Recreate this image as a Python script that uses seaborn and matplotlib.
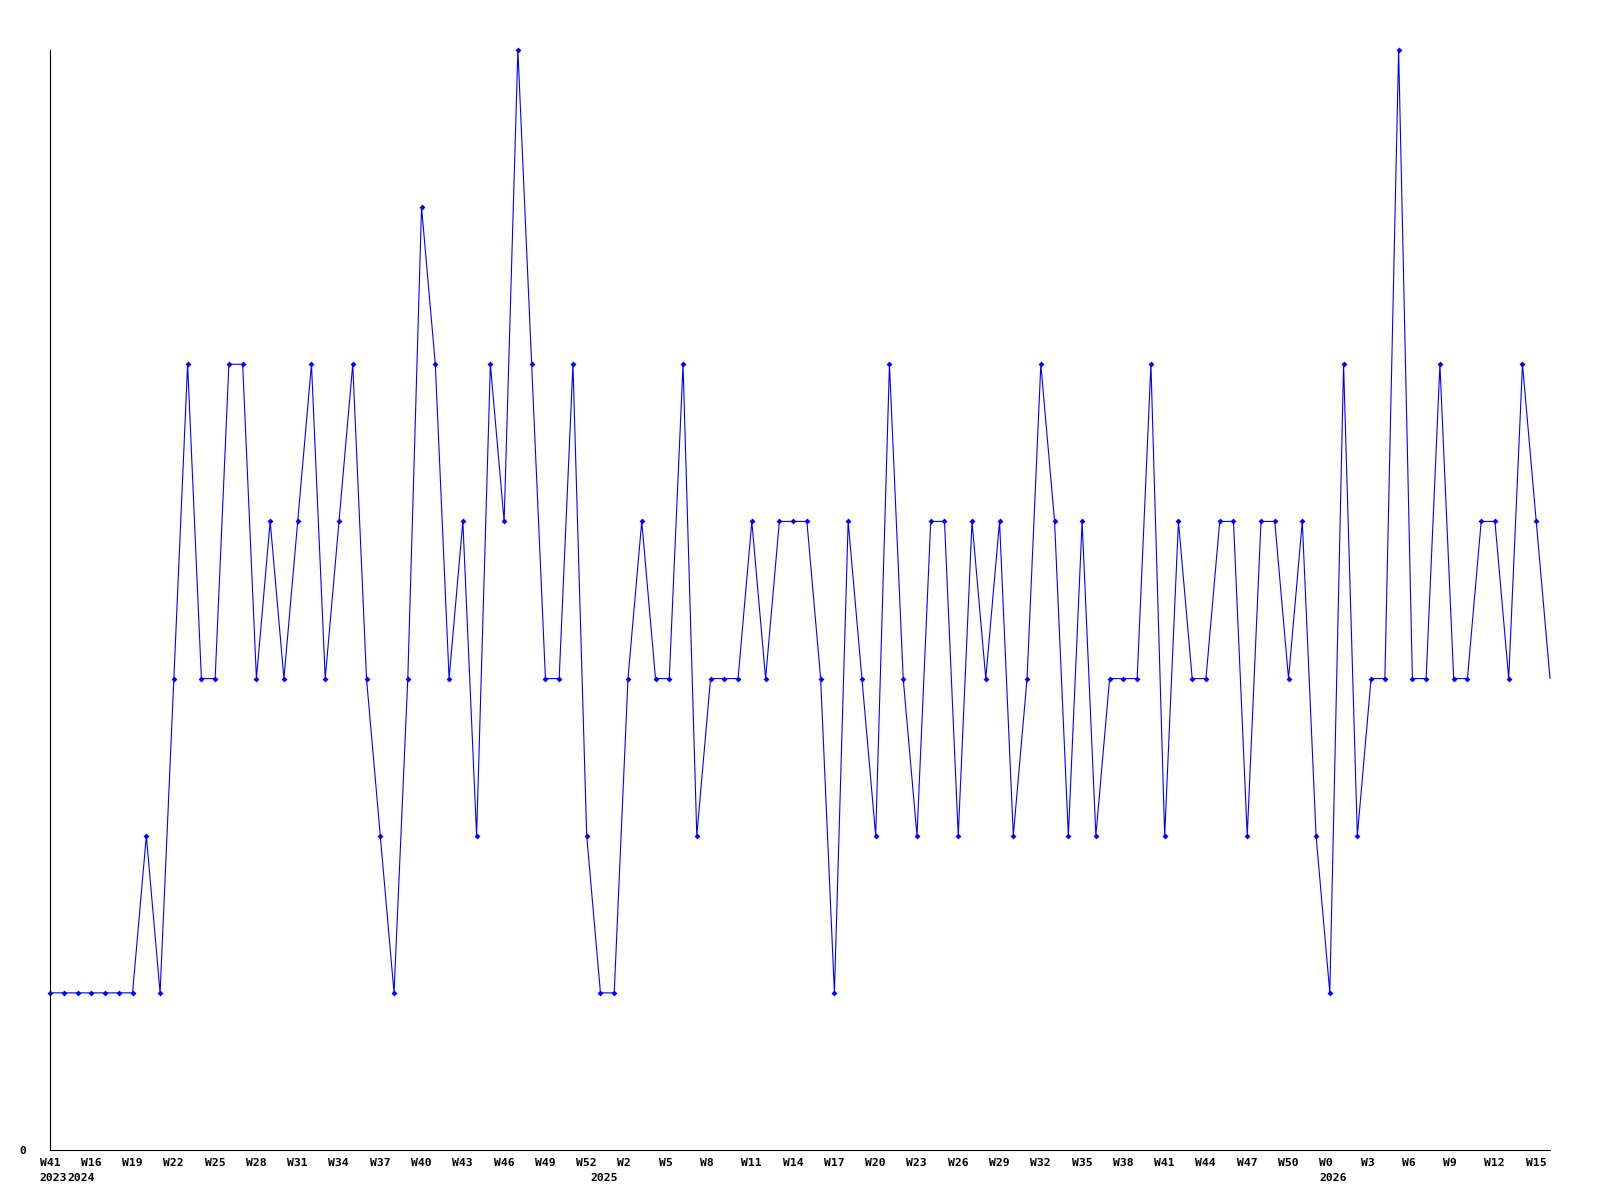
import pandas as pd
import seaborn as sns
import matplotlib.pyplot as plt
from matplotlib.transforms import ScaledTranslation

# weekly counts, one point per week shown on the axis
values = [1, 1, 1, 1, 1, 1, 1, 2, 1, 3,
          5, 3, 3, 5, 5, 3, 4, 3, 4, 5,
          3, 4, 5, 3, 2, 1, 3, 6, 5, 3,
          4, 2, 5, 4, 7, 5, 3, 3, 5, 2,
          1, 1, 3, 4, 3, 3, 5, 2, 3, 3,
          3, 4, 3, 4, 4, 4, 3, 1, 4, 3,
          2, 5, 3, 2, 4, 4, 2, 4, 3, 4,
          2, 3, 5, 4, 2, 4, 2, 3, 3, 3,
          5, 2, 4, 3, 3, 4, 4, 2, 4, 4,
          3, 4, 2, 1, 5, 2, 3, 3, 7, 3,
          3, 5, 3, 3, 4, 4, 3, 5, 4, 3]

# week numbers per year, in the order the points appear
weeks_2023 = [41, 42]
weeks_2024 = list(range(15, 53))
weeks_2025 = list(range(0, 53))
weeks_2026 = list(range(0, 17))
years = ['2023', '2024', '2025', '2026']

week_labels = []
year_starts = []
for yr, wk in zip(years, [weeks_2023, weeks_2024, weeks_2025, weeks_2026]):
    year_starts.append(len(week_labels))
    week_labels += ['W%d' % w for w in wk]

df = pd.DataFrame({'pos': range(len(values)), 'count': values})
n = len(values)

sns.set_style('white')
plt.rcParams['font.family'] = ['DejaVu Sans Mono']
plt.rcParams['text.color'] = 'black'
plt.rcParams['xtick.color'] = 'black'
plt.rcParams['ytick.color'] = 'black'

fig = plt.figure(figsize=(16, 12), dpi=100)
ax = fig.add_axes([50 / 1600, 50 / 1200, 1500 / 1600, 1100 / 1200])

sns.lineplot(data=df, x='pos', y='count', ax=ax, color='#0000ff', linewidth=0.8,
             marker='D', markersize=3, markeredgewidth=0,
             markevery=list(range(n - 1)), clip_on=False)

ax.set_xlim(0, n - 1)
ax.set_ylim(0, 7)
ax.set_xlabel('')
ax.set_ylabel('')

fs = 8.2
ax.set_yticks([0])
ax.set_yticklabels(['0'], fontsize=fs, fontweight='bold')
ticks = list(range(0, n, 3))
ax.set_xticks(ticks)
ax.set_xticklabels([week_labels[i] for i in ticks], fontsize=fs, fontweight='bold')
ax.tick_params(axis='x', length=0, pad=5.6)
ax.tick_params(axis='y', length=0, pad=17)

shift = ScaledTranslation(-10.5 / 100, 0, fig.dpi_scale_trans)
for lab in ax.get_xticklabels():
    lab.set_ha('left')
    lab.set_transform(lab.get_transform() + shift)

# year under the first week of each year
ytrans = ax.get_xaxis_transform() + ScaledTranslation(-10.5 / 100, -23 / 100, fig.dpi_scale_trans)
for yr, i in zip(years, year_starts):
    ax.text(i, 0, yr, transform=ytrans, ha='left', va='top',
            fontsize=fs, fontweight='bold')

for side in ['top', 'right']:
    ax.spines[side].set_visible(False)
for side in ['left', 'bottom']:
    ax.spines[side].set_color('black')
    ax.spines[side].set_linewidth(0.8)

fig.savefig('out.png', dpi=100)
